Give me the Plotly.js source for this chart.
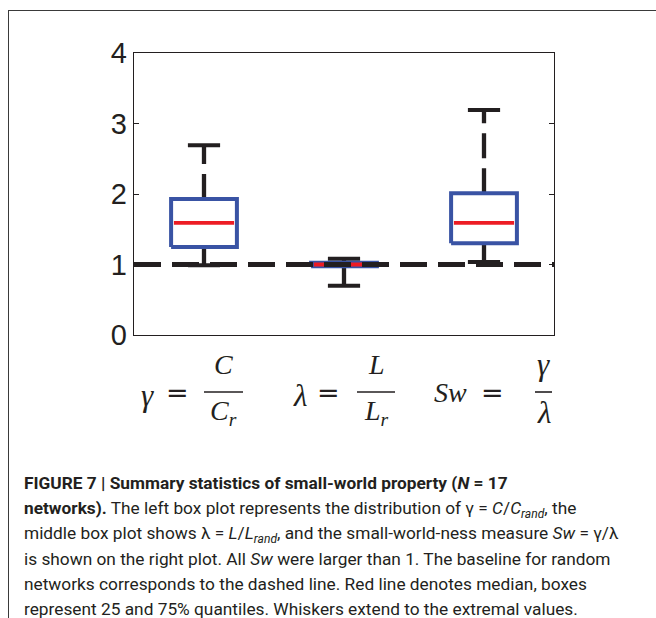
<!DOCTYPE html>
<html>
<head>
<meta charset="utf-8">
<script src="https://cdn.plot.ly/plotly-3.0.1.min.js"></script>
<style>
  html, body { margin: 0; padding: 0; background: #fff; overflow: hidden; }
  #chart { width: 656px; height: 618px; }
</style>
</head>
<body>
<div id="chart"></div>
<script>
// ---- data ----
const positions = [1, 2, 3];                 // gamma, lambda, Sw
const lowerWhisker = [0.99, 0.70, 1.035];
const q1Values     = [1.25, 0.975, 1.30];
const medians      = [1.59, 1.00, 1.59];
const q3Values     = [1.93, 1.025, 2.01];
const upperWhisker = [2.69, 1.08, 3.19];
const baseline = [1];
const yTickVals = [0, 1, 2, 3, 4];
const yTickText = ['0', '1', '2', '3', '4'];
// x-axis math labels: variable, equals sign, numerator, denominator
const labelVar = ['<i>γ</i>', '<i>λ</i>', '<i>Sw</i>'];
const labelEq  = ['=', '=', '='];
const labelNum = ['<i>C</i>', '<i>L</i>', '<i>γ</i>'];
const labelDen = ['<i>C</i><sub><i>r</i></sub>', '<i>L</i><sub><i>r</i></sub>', '<i>λ</i>'];
const captionLines = [
  '<b>FIGURE 7 | Summary statistics of small-world property (<i>N</i> = 17</b>',
  '<b>networks).</b> The left box plot represents the distribution of γ = <i>C</i>/<i>C</i><sub><i>rand</i></sub>, the',
  'middle box plot shows λ = <i>L</i>/<i>L</i><sub><i>rand</i></sub>, and the small-world-ness measure <i>Sw</i> = γ/λ',
  'is shown on the right plot. All <i>Sw</i> were larger than 1. The baseline for random',
  'networks corresponds to the dashed line. Red line denotes median, boxes',
  'represent 25 and 75% quantiles. Whiskers extend to the extremal values.'
];

// ---- styling ----
const BLUE = '#3953a4', RED = '#ed1c24', BLACK = '#231f20';
const halfBox = 0.235, halfCap = 0.115;
// per-label pixel offsets relative to the category centre
const varCenter = [-57, -44, -34];
const eqCenter = [-27, -16, 8];
const fracCenter = [19.5, 32, 59.5];
const fracWidth = [39, 38, 17];

const traces = [];
positions.forEach((c, i) => {
  traces.push({x: [c, c], y: [q3Values[i], upperWhisker[i]], mode: 'lines',
    line: {color: BLACK, width: 4.3, dash: '25px,10px'}, hoverinfo: 'skip', showlegend: false});
  traces.push({x: [c, c], y: [q1Values[i], lowerWhisker[i]], mode: 'lines',
    line: {color: BLACK, width: 4.3, dash: '25px,10px'}, hoverinfo: 'skip', showlegend: false});
  traces.push({x: [c - halfCap, c + halfCap], y: [upperWhisker[i], upperWhisker[i]], mode: 'lines',
    line: {color: BLACK, width: 4}, hoverinfo: 'skip', showlegend: false});
  traces.push({x: [c - halfCap, c + halfCap], y: [lowerWhisker[i], lowerWhisker[i]], mode: 'lines',
    line: {color: BLACK, width: 4}, hoverinfo: 'skip', showlegend: false});
  traces.push({x: [c - halfBox, c + halfBox, c + halfBox, c - halfBox, c - halfBox],
    y: [q1Values[i], q1Values[i], q3Values[i], q3Values[i], q1Values[i]], mode: 'lines',
    line: {color: BLUE, width: 4}, hoverinfo: 'skip', showlegend: false});
  traces.push({x: [c - halfBox + 0.02, c + halfBox - 0.02], y: [medians[i], medians[i]], mode: 'lines',
    line: {color: RED, width: 3.8}, hoverinfo: 'skip', showlegend: false});
});

const FRAME = '#3a3a3a';
const shapes = [
  {type: 'line', xref: 'paper', x0: 0, x1: 1, yref: 'y', y0: baseline[0], y1: baseline[0],
   line: {color: BLACK, width: 5, dash: '27px,11px'}, layer: 'above'},
  // outer figure frame (left and top)
  {type: 'line', xref: 'paper', xsizemode: 'pixel', xanchor: 0, x0: -125.5, x1: -125.5,
   yref: 'paper', ysizemode: 'pixel', yanchor: 0, y0: -300, y1: 324, line: {color: FRAME, width: 1}},
  {type: 'line', xref: 'paper', xsizemode: 'pixel', xanchor: 0, x0: -126, x1: 540,
   yref: 'paper', ysizemode: 'pixel', yanchor: 0, y0: 324.5, y1: 324.5, line: {color: FRAME, width: 1}}
];
const annotations = [];
const mathFont = {family: 'Liberation Serif, DejaVu Serif, serif', size: 28, color: BLACK};
const greekFont = {family: 'Liberation Serif, DejaVu Serif, serif', size: 31, color: BLACK};
const eqFont = {family: 'DejaVu Sans, sans-serif', size: 27, color: BLACK};
positions.forEach((c, i) => {
  annotations.push({xref: 'x', x: c, xshift: varCenter[i], xanchor: 'center',
    yref: 'paper', y: 0, yanchor: 'middle', yshift: i === 2 ? -57 : -60, text: labelVar[i],
    showarrow: false, font: i === 2 ? mathFont : greekFont});
  annotations.push({xref: 'x', x: c, xshift: eqCenter[i], xanchor: 'center',
    yref: 'paper', y: 0, yanchor: 'middle', yshift: -57, text: labelEq[i],
    showarrow: false, font: eqFont});
  annotations.push({xref: 'x', x: c, xshift: fracCenter[i], xanchor: 'center',
    yref: 'paper', y: 0, yanchor: 'middle', yshift: -29, text: labelNum[i],
    showarrow: false, font: i === 2 ? greekFont : mathFont});
  annotations.push({xref: 'x', x: c, xshift: fracCenter[i], xanchor: 'center',
    yref: 'paper', y: 0, yanchor: 'middle', yshift: -77, text: labelDen[i],
    showarrow: false, font: i === 2 ? greekFont : mathFont});
  shapes.push({type: 'line', xref: 'x', xsizemode: 'pixel', xanchor: c,
    x0: fracCenter[i] - fracWidth[i] / 2, x1: fracCenter[i] + fracWidth[i] / 2,
    yref: 'paper', ysizemode: 'pixel', yanchor: 0, y0: -57, y1: -57,
    line: {color: BLACK, width: 1.6}});
});
const capFont = {family: 'Roboto, Liberation Sans, sans-serif', size: 17.3, color: BLACK};
const capY = [-148, -174, -199, -224, -249, -274];
captionLines.forEach((t, i) => {
  annotations.push({xref: 'paper', x: 0, xshift: -112, xanchor: 'left',
    yref: 'paper', y: 0, yanchor: 'middle', yshift: capY[i], text: t, align: 'left',
    showarrow: false, font: capFont});
});

const layout = {
  width: 656, height: 618,
  margin: {l: 134, r: 102, t: 53, b: 283, pad: 0},
  paper_bgcolor: '#fff', plot_bgcolor: '#fff',
  showlegend: false,
  xaxis: {range: [0.5, 3.5], showticklabels: false, ticks: '', showgrid: false, zeroline: false,
    showline: true, mirror: true, linecolor: BLACK, linewidth: 1.3},
  yaxis: {range: [0, 4], tickvals: yTickVals, ticktext: yTickText, ticks: 'inside', ticklen: 5,
    tickcolor: BLACK, tickwidth: 1, showgrid: false, zeroline: false,
    showline: true, mirror: 'ticks', linecolor: BLACK, linewidth: 1.3,
    tickfont: {family: 'Liberation Sans, Arial, sans-serif', size: 29, color: BLACK}},
  shapes: shapes,
  annotations: annotations
};
Plotly.newPlot('chart', traces, layout, {staticPlot: true, displayModeBar: false});
</script>
</body>
</html>
